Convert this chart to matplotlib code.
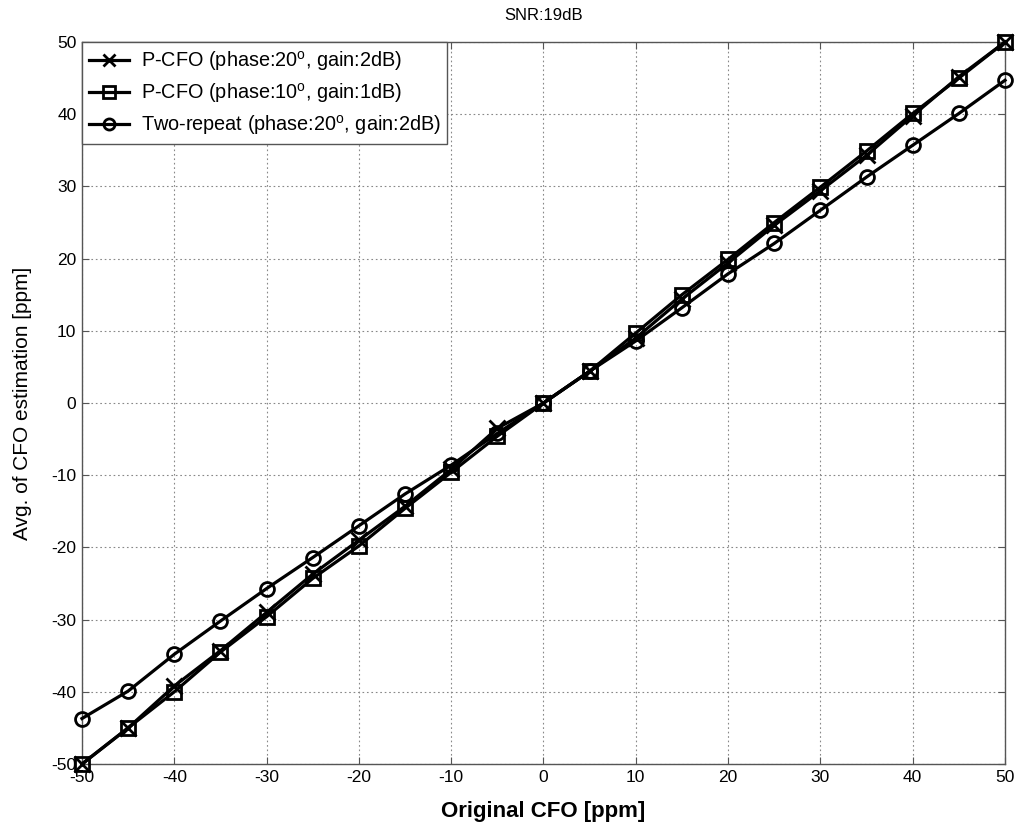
import matplotlib
matplotlib.use("Agg")
import matplotlib.pyplot as plt

plt.rcParams['font.family'] = ['Liberation Sans', 'DejaVu Sans']
plt.rcParams['mathtext.fontset'] = 'custom'
plt.rcParams['mathtext.rm'] = 'Liberation Sans'
plt.rcParams['axes.unicode_minus'] = False

# Original CFO values [ppm]
cfo = [-50, -45, -40, -35, -30, -25, -20, -15, -10, -5, 0,
       5, 10, 15, 20, 25, 30, 35, 40, 45, 50]

# Average CFO estimates [ppm]
pcfo_20deg_2db = [-50, -45, -39.2, -34.3, -29.0, -23.7, -19.0, -14.3, -9.2, -3.5, 0,
                  4.4, 9.0, 14.4, 19.4, 24.6, 29.4, 34.3, 39.8, 45.2, 50]
pcfo_10deg_1db = [-50, -45, -40, -34.5, -29.6, -24.3, -19.8, -14.6, -9.6, -4.6, 0,
                  4.4, 9.7, 15.0, 19.9, 25.0, 29.9, 34.9, 40.1, 45.0, 50]
two_repeat = [-43.7, -39.9, -34.8, -30.2, -25.7, -21.4, -17.0, -12.6, -8.6, -4.2, 0,
              4.4, 8.6, 13.2, 17.9, 22.1, 26.7, 31.3, 35.7, 40.1, 44.7]

labels = [r'P-CFO (phase:20$^{\mathrm{o}}$, gain:2dB)',
          r'P-CFO (phase:10$^{\mathrm{o}}$, gain:1dB)',
          r'Two-repeat (phase:20$^{\mathrm{o}}$, gain:2dB)']

fig = plt.figure(figsize=(10.22, 8.30), dpi=100)
ax = fig.add_axes([0.0802, 0.0795, 0.9032, 0.8699])

style = dict(color='black', linewidth=2.3, mfc='none', mew=2.0, clip_on=False, zorder=3)
ax.plot(cfo, pcfo_20deg_2db, marker='x', markersize=11, label=labels[0], **style)
ax.plot(cfo, pcfo_10deg_1db, marker='s', markersize=10, label=labels[1], **style)
ax.plot(cfo, two_repeat, marker='o', markersize=10, label=labels[2], **style)

ax.set_xlim(-50, 50)
ax.set_ylim(-50, 50)
ax.set_xticks(range(-50, 51, 10))
ax.set_yticks(range(-50, 51, 10))
ax.tick_params(direction='in', top=True, right=True, labelsize=12.5,
               length=5, width=0.8, color='#555555', pad=4)
for s in ax.spines.values():
    s.set_color('#555555')
    s.set_linewidth(1.0)
ax.grid(True, linestyle=(0, (1.5, 2.5)), color='#888888', linewidth=0.8)
ax.set_axisbelow(True)

ax.set_title('SNR:19dB', fontsize=12, pad=16)
ax.set_xlabel('Original CFO [ppm]', fontsize=16, fontweight='bold', labelpad=12)
ax.set_ylabel('Avg. of CFO estimation [ppm]', fontsize=15, labelpad=14)

leg = ax.legend(loc='upper left', fontsize=14.3, handlelength=2.0, borderaxespad=0,
                fancybox=False, framealpha=1, edgecolor='#555555',
                borderpad=0.35, labelspacing=0.4, handletextpad=0.6,
                markerscale=0.8)
leg.get_frame().set_linewidth(1.0)
leg.set_zorder(5)

fig.savefig('out.png', dpi=100)
